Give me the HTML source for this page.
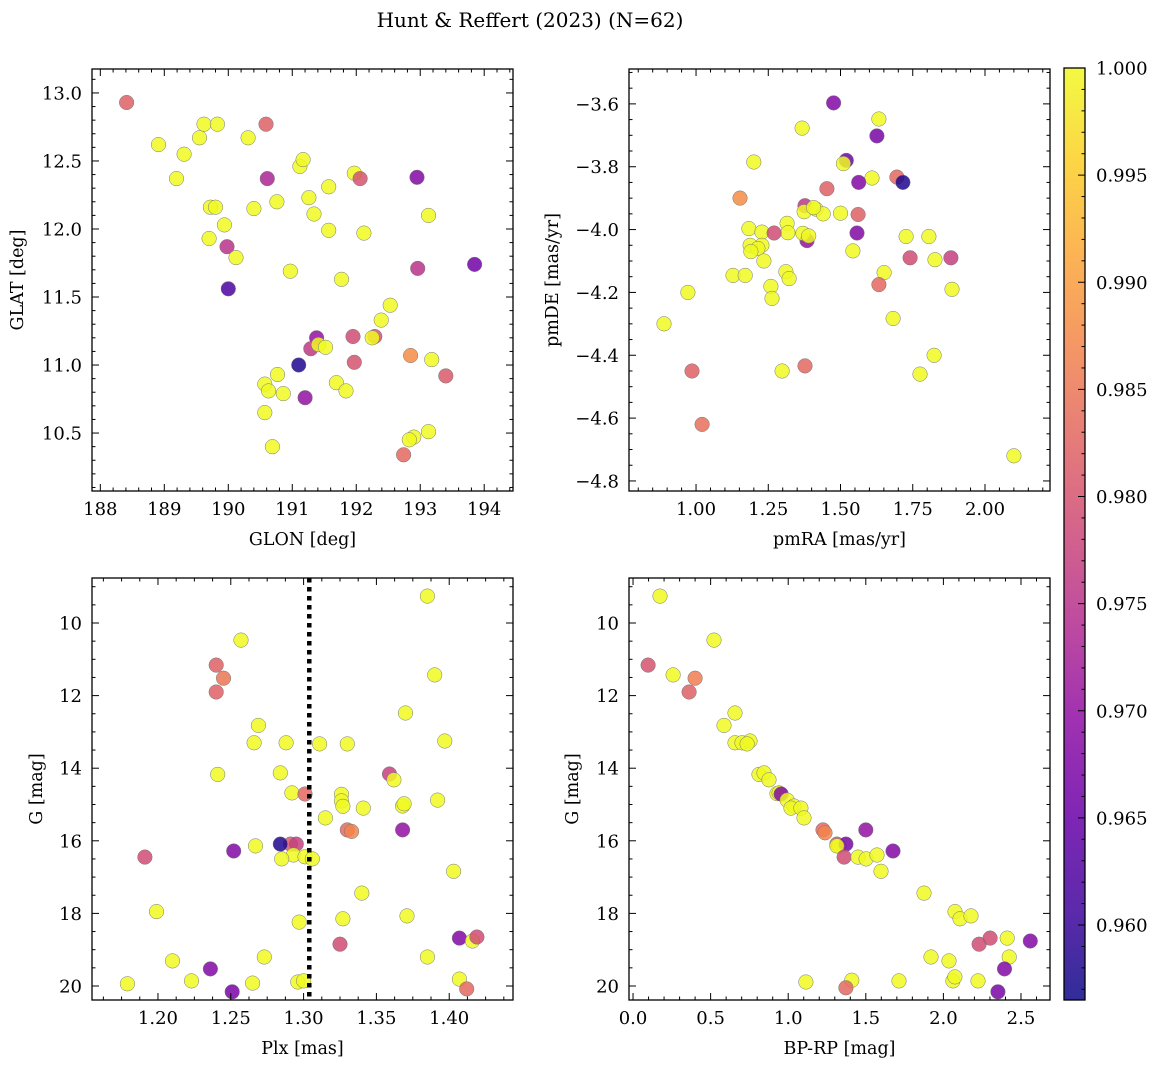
<!DOCTYPE html>
<html><head><meta charset="utf-8">
<style>
html,body{margin:0;padding:0;background:#fff;}
svg{display:block;font-family:"DejaVu Serif","Liberation Serif",serif;}
</style></head>
<body>
<svg id="fig" width="1161" height="1068" viewBox="0 0 1161 1068" xmlns="http://www.w3.org/2000/svg">
<text x="530" y="27" font-size="20" text-anchor="middle">Hunt &amp; Reffert (2023) (N=62)</text>
</svg>
<script>
// ---- Panel 1: GLON vs GLAT ----
const p1Glon=[188.41,188.91,189.31,189.19,189.62,189.83,189.55,189.72,189.80,189.94,189.70,189.98,190.12,190.00,190.31,190.59,190.61,190.40,190.76,191.12,191.17,191.26,191.34,191.57,191.57,191.97,192.06,192.12,191.77,190.97,192.95,193.13,192.96,193.85,192.53,192.39,192.29,192.25,191.95,191.97,191.38,191.29,191.41,191.52,191.10,190.77,190.57,190.63,190.86,191.69,191.84,191.20,190.57,190.69,192.85,193.18,193.40,193.13,192.90,192.83,192.74];
const p1Glat=[12.93,12.62,12.55,12.37,12.77,12.77,12.67,12.16,12.16,12.03,11.93,11.87,11.79,11.56,12.67,12.77,12.37,12.15,12.20,12.46,12.51,12.23,12.11,12.31,11.99,12.41,12.37,11.97,11.63,11.69,12.38,12.10,11.71,11.74,11.44,11.33,11.21,11.20,11.21,11.02,11.20,11.12,11.15,11.13,11.00,10.93,10.86,10.81,10.79,10.87,10.81,10.76,10.65,10.40,11.07,11.04,10.92,10.51,10.47,10.45,10.34];
const p1Prob=[0.982,1,1,1,1,1,1,1,1,1,1,0.975,1,0.962,1,0.982,0.973,1,1,1,1,1,1,1,1,1,0.980,1,1,1,0.968,1,0.975,0.966,1,1,0.980,1,0.979,0.980,0.970,0.976,1,1,0.958,1,1,1,1,1,1,0.970,1,1,0.988,1,0.981,1,1,1,0.983];
// ---- Panel 2: pmRA vs pmDE ----
const p2PmRA=[1.476,1.633,1.367,1.626,1.520,1.510,1.200,1.609,1.695,1.563,1.716,1.152,1.453,1.377,1.374,1.415,1.440,1.500,1.561,1.407,1.384,1.370,1.390,1.315,1.318,1.183,1.228,1.270,1.557,1.543,1.228,1.187,1.214,1.190,1.235,1.727,1.806,1.827,1.882,1.741,1.651,1.128,1.170,1.311,1.322,1.259,1.263,1.633,1.886,0.972,1.682,0.889,1.824,0.986,1.298,1.377,1.775,1.021,2.100];
const p2PmDE=[-3.597,-3.648,-3.677,-3.702,-3.780,-3.790,-3.785,-3.836,-3.833,-3.850,-3.850,-3.900,-3.870,-3.924,-3.943,-3.935,-3.950,-3.948,-3.952,-3.930,-4.035,-4.012,-4.020,-3.980,-4.010,-3.997,-4.008,-4.011,-4.011,-4.068,-4.050,-4.050,-4.060,-4.070,-4.100,-4.022,-4.022,-4.096,-4.090,-4.090,-4.137,-4.146,-4.146,-4.134,-4.156,-4.181,-4.219,-4.175,-4.190,-4.200,-4.283,-4.300,-4.400,-4.450,-4.450,-4.434,-4.460,-4.620,-4.720];
const p2Prob=[0.968,1,1,0.967,0.966,1,1,1,0.983,0.968,0.958,0.988,0.982,0.976,1,1,1,1,0.982,1,0.970,1,1,1,1,1,1,0.979,0.968,1,1,1,1,1,1,1,1,1,0.977,0.979,1,1,1,1,1,1,1,0.983,1,1,1,1,1,0.982,1,0.983,1,0.984,1];
// ---- Panel 3: Plx vs G ----
const p3Plx=[1.385,1.257,1.390,1.240,1.245,1.240,1.269,1.370,1.266,1.288,1.330,1.311,1.397,1.241,1.284,1.359,1.362,1.392,1.292,1.301,1.326,1.326,1.327,1.341,1.368,1.369,1.315,1.330,1.333,1.368,1.267,1.291,1.295,1.284,1.252,1.191,1.293,1.285,1.301,1.306,1.403,1.199,1.340,1.327,1.371,1.297,1.325,1.407,1.416,1.419,1.210,1.273,1.385,1.236,1.223,1.265,1.296,1.300,1.407,1.179,1.251,1.412];
const p3G=[9.26,10.47,11.43,11.16,11.52,11.90,12.82,12.48,13.30,13.30,13.33,13.33,13.25,14.17,14.13,14.16,14.32,14.88,14.68,14.71,14.72,14.90,15.05,15.10,15.04,14.98,15.37,15.70,15.74,15.70,16.14,16.09,16.09,16.09,16.28,16.45,16.39,16.50,16.44,16.50,16.84,17.95,17.44,18.15,18.07,18.24,18.85,18.68,18.76,18.65,19.31,19.20,19.20,19.53,19.86,19.92,19.89,19.86,19.81,19.94,20.16,20.08];
const p3Prob=[1,1,1,0.982,0.985,0.982,1,1,1,1,1,1,1,1,1,0.977,1,1,1,0.983,1,1,1,1,1,1,1,0.983,0.987,0.970,1,0.981,0.977,0.958,0.968,0.979,1,1,1,1,1,1,1,1,1,1,0.979,0.968,1,0.979,1,1,1,0.968,1,1,1,1,1,1,0.967,0.983];
const plxMean=1.3039;
// ---- Panel 4: BP-RP vs G ----
const p4Bprp=[0.174,0.522,0.097,0.258,0.400,0.361,0.586,0.657,0.657,0.702,0.754,0.735,0.812,0.844,0.876,0.928,0.941,0.954,0.993,1.037,1.018,1.082,1.102,1.224,1.237,1.500,1.314,1.327,1.372,1.314,1.360,1.450,1.502,1.572,1.675,1.598,1.875,2.075,2.107,2.178,2.230,2.301,2.411,2.560,2.424,1.920,2.036,2.394,2.061,2.074,2.223,1.114,1.410,1.714,1.372,2.351];
const p4G=[9.26,10.47,11.16,11.43,11.52,11.90,12.82,12.48,13.30,13.30,13.25,13.33,14.17,14.13,14.32,14.70,14.68,14.71,14.88,15.04,15.10,15.10,15.37,15.70,15.78,15.70,16.09,16.14,16.09,16.14,16.45,16.45,16.50,16.39,16.28,16.84,17.44,17.95,18.15,18.07,18.85,18.68,18.68,18.76,19.20,19.20,19.31,19.53,19.86,19.75,19.86,19.89,19.84,19.86,20.05,20.16];
const p4Prob=[1,1,0.980,1,0.986,0.982,1,1,1,1,1,1,1,1,1,1,1,0.968,1,1,1,1,1,0.983,0.987,0.970,0.981,1,0.967,1,0.979,1,1,1,0.968,1,1,1,1,1,0.979,0.979,1,0.968,1,1,1,0.968,1,1,1,1,1,1,0.983,0.967];
// ---- Colorbar ----
const cbTicks=[0.960,0.965,0.970,0.975,0.980,0.985,0.990,0.995,1.000];
const vmin=0.9565, vmax=1.0;

const NS="http://www.w3.org/2000/svg";
const svg=document.getElementById('fig');
function el(tag,attrs,parent){const e=document.createElementNS(NS,tag);for(const k in attrs)e.setAttribute(k,attrs[k]);(parent||svg).appendChild(e);return e;}
const plasma=[[13,8,135],[65,4,157],[106,0,168],[143,13,164],[177,42,144],[204,71,120],[225,100,98],[242,132,75],[252,166,54],[252,206,37],[240,249,33]];
function cmap(p){let t=(p-vmin)/(vmax-vmin);t=Math.max(0,Math.min(1,t));const f=t*10,i=Math.min(9,Math.floor(f)),r=f-i;const a=plasma[i],b=plasma[i+1];return 'rgb('+a.map((v,k)=>Math.round(v+(b[k]-v)*r)).join(',')+')';}
function fmt(v,d){const s=v.toFixed(d);return s.replace('-','\u2212');}
const TF=18, LF=17.5;

function panel(name,box,xr,yr,invY,xMaj,xDiv,yMaj,yDiv,xdec,ydec,xlabel,ylabel,ylx,xs,ys,ps){
  const [L,T,R,B]=box;
  const g=el('g',{});
  
  
  const sx=v=>L+(v-xr[0])/(xr[1]-xr[0])*(R-L);
  const sy=v=>invY?T+(v-yr[0])/(yr[1]-yr[0])*(B-T):B-(v-yr[0])/(yr[1]-yr[0])*(B-T);
  const clip=el('clipPath',{id:'c'+name},g);el('rect',{x:L,y:T,width:R-L,height:B-T},clip);
  const pg=el('g',{'clip-path':'url(#c'+name+')'},g);
  for(let i=0;i<xs.length;i++){
    const c=el('circle',{cx:sx(xs[i]).toFixed(1),cy:sy(ys[i]).toFixed(1),r:7.3,fill:cmap(ps[i]),'fill-opacity':0.85,stroke:'#777','stroke-width':0.5},pg);
    
    
  }
  if(name==='panel-plx-g'){
    const ln=el('line',{x1:sx(plxMean),x2:sx(plxMean),y1:T,y2:B,stroke:'#000','stroke-width':4.5,'stroke-dasharray':'4.5,4.5'},g);
    
    
  }
  const tg=el('g',{stroke:'#000','stroke-width':1},g);
  const xstep=xMaj[1]-xMaj[0];const xmin=xstep/xDiv;
  for(let v=Math.ceil((xr[0]-1e-9)/xmin)*xmin;v<=xr[1]+1e-9;v+=xmin){
    const x=sx(v);const isMaj=Math.abs(Math.round((v-xMaj[0])/xstep)*xstep-(v-xMaj[0]))<xmin/10;const l=isMaj?7:3.5;
    el('line',{x1:x,x2:x,y1:B,y2:B-l},tg);el('line',{x1:x,x2:x,y1:T,y2:T+l},tg);
  }
  const ystep=Math.abs(yMaj[1]-yMaj[0]);const ymn=ystep/yDiv;
  for(let v=Math.ceil((yr[0]-1e-9)/ymn)*ymn;v<=yr[1]+1e-9;v+=ymn){
    const y=sy(v);const isMaj=Math.abs(Math.round((v-yMaj[0])/ystep)*ystep-(v-yMaj[0]))<ymn/10;const l=isMaj?7:3.5;
    el('line',{x1:L,x2:L+l,y1:y,y2:y},tg);el('line',{x1:R,x2:R-l,y1:y,y2:y},tg);
  }
  el('rect',{x:L,y:T,width:R-L,height:B-T,fill:'none',stroke:'#000','stroke-width':1.3},g);
  xMaj.forEach(v=>{const t=el('text',{x:sx(v),y:B+24,'font-size':TF,'text-anchor':'middle'},g);t.textContent=fmt(v,xdec);
    });
  yMaj.forEach(v=>{const t=el('text',{x:L-10,y:sy(v)+6.5,'font-size':TF,'text-anchor':'end'},g);t.textContent=fmt(v,ydec);
    });
  const xl=el('text',{x:(L+R)/2,y:B+54,'font-size':LF,'text-anchor':'middle'},g);xl.textContent=xlabel;
  
  const yl=el('text',{x:ylx,y:(T+B)/2,'font-size':LF,'text-anchor':'middle',transform:'rotate(-90 '+ylx+' '+((T+B)/2)+')'},g);yl.textContent=ylabel;
  
}
panel('panel-glon-glat',[92,69,513,491],[187.87,194.45],[10.074,13.176],false,[188,189,190,191,192,193,194],5,[10.5,11,11.5,12,12.5,13],5,0,1,'GLON [deg]','GLAT [deg]',23,p1Glon,p1Glat,p1Prob);
panel('panel-pm',[629,69,1050,491],[0.768,2.225],[-4.832,-3.489],false,[1.0,1.25,1.5,1.75,2.0],5,[-4.8,-4.6,-4.4,-4.2,-4.0,-3.8,-3.6],4,2,1,'pmRA [mas/yr]','pmDE [mas/yr]',558,p2PmRA,p2PmDE,p2Prob);
panel('panel-plx-g',[92,578,513,1000],[1.1547,1.4438],[8.76,20.386],true,[1.2,1.25,1.3,1.35,1.4],4,[10,12,14,16,18,20],4,2,0,'Plx [mas]','G [mag]',42,p3Plx,p3G,p3Prob);
panel('panel-cmd',[629,578,1050,1000],[-0.026,2.687],[8.76,20.386],true,[0,0.5,1.0,1.5,2.0,2.5],5,[10,12,14,16,18,20],4,1,0,'BP-RP [mag]','G [mag]',578,p4Bprp,p4G,p4Prob);

(function(){
  const L=1064,R=1085,T=68,B=1000;
  const g=el('g',{});
  const defs=el('defs',{},g);const lg=el('linearGradient',{id:'cbg',x1:0,y1:1,x2:0,y2:0},defs);
  plasma.forEach((c,i)=>el('stop',{offset:i/10,'stop-color':'rgb('+c.join(',')+')'},lg));
  el('rect',{x:L,y:T,width:R-L,height:B-T,fill:'url(#cbg)','fill-opacity':0.85},g);
  const sy=v=>B-(v-vmin)/(vmax-vmin)*(B-T);
  for(let v=Math.ceil(vmin/0.001)*0.001;v<=vmax+1e-9;v+=0.001){
    const maj=Math.abs(Math.round(v/0.005)*0.005-v)<1e-4;
    el('line',{x1:R,x2:R-(maj?7:3.5),y1:sy(v),y2:sy(v),stroke:'#000','stroke-width':1},g);
  }
  el('rect',{x:L,y:T,width:R-L,height:B-T,fill:'none',stroke:'#000','stroke-width':1.3},g);
  cbTicks.forEach(v=>{const t=el('text',{x:R+11,y:sy(v)+6.5,'font-size':TF},g);t.textContent=v.toFixed(3);
    });
})();
</script>
</body></html>
